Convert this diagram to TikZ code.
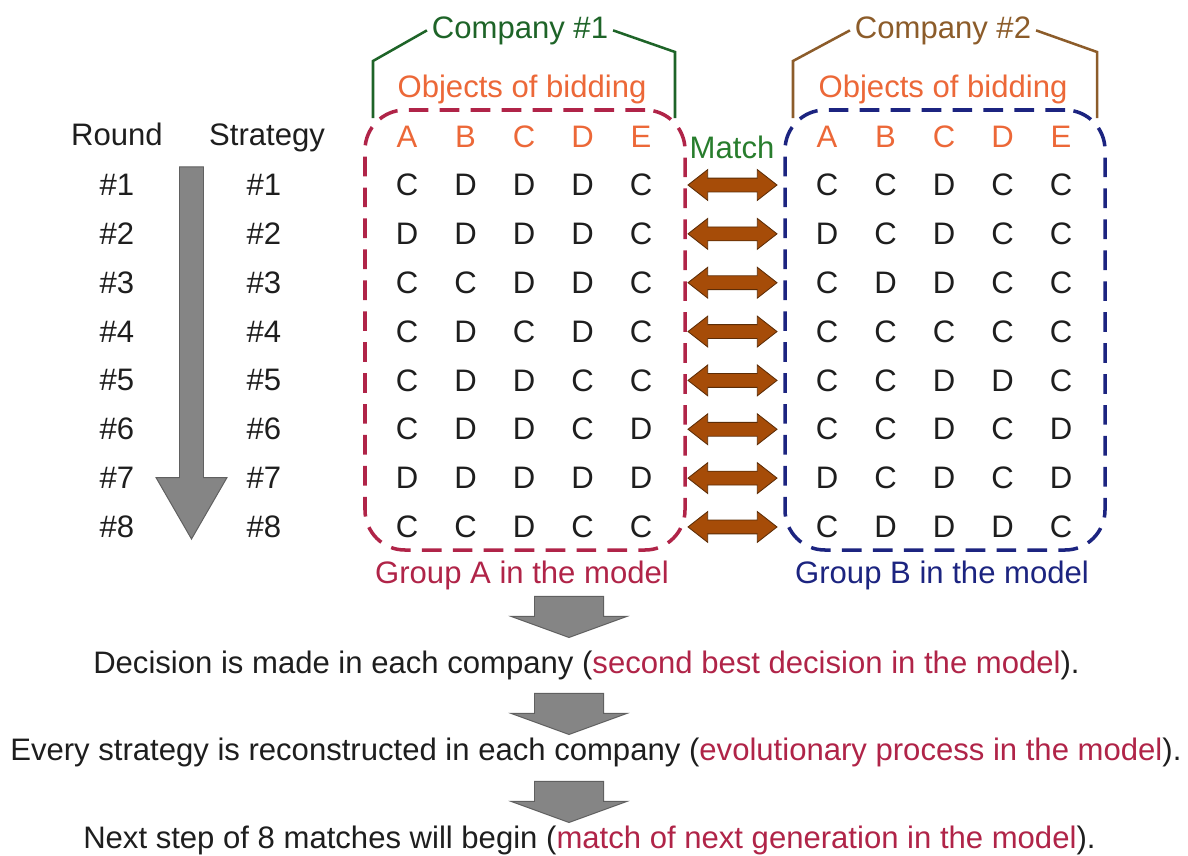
\documentclass[tikz,border=0pt]{standalone}
\usepackage{fontspec}
\setmainfont{Liberation Sans}
\usepackage{xcolor}
\usepackage{tikz}
\usetikzlibrary{shapes.arrows, positioning, fit}

\definecolor{grpA}{RGB}{176,36,72}
\definecolor{grpB}{RGB}{28,36,128}
\definecolor{objcol}{RGB}{236,104,56}
\definecolor{comp1col}{RGB}{30,100,40}
\definecolor{comp2col}{RGB}{140,92,42}
\definecolor{matchcol}{RGB}{40,125,45}
\definecolor{brownfill}{RGB}{166,76,8}
\definecolor{brownline}{RGB}{92,44,6}
\definecolor{grayfill}{RGB}{133,133,133}
\definecolor{grayline}{RGB}{96,96,96}
\definecolor{txt}{RGB}{30,30,30}

\tikzstyle{cell} = [text=txt, inner sep=0pt]
\tikzstyle{objhead} = [text=objcol, inner sep=0pt]
\tikzstyle{groupbox} = [rectangle, rounded corners=1cm, line width=2.5pt, dash pattern=on 14pt off 8pt, inner sep=0pt]
\tikzstyle{bracket} = [line width=1.8pt]
\tikzstyle{matcharrow} = [double arrow, double arrow tip angle=76, double arrow head extend=0.2125cm, inner xsep=0pt, inner ysep=0.1625cm, minimum height=2.225cm, fill=brownfill, draw=brownline, line width=0.6pt]
\tikzstyle{bigarrow} = [single arrow, rotate=-90, anchor=tip, single arrow tip angle=60, single arrow head extend=0.5875cm, inner xsep=0pt, inner ysep=0.2875cm, minimum height=9.3cm, fill=grayfill, draw=grayline, line width=0.7pt]
\tikzstyle{stepdown} = [single arrow, rotate=-90, anchor=tip, single arrow tip angle=140, single arrow head extend=0.5875cm, inner xsep=0pt, inner ysep=0.85cm, minimum height=1.025cm, fill=grayfill, draw=grayline, line width=0.7pt]

\begin{document}
\begin{tikzpicture}[x=0.025cm, y=-0.025cm, font=\fontsize{22.1pt}{26pt}\selectfont]
    \useasboundingbox (0,0) rectangle (1188,855);

    % rounds and strategies
    \node (round) [cell, anchor=base] at (117,145) {Round};
    \node (strat) [cell, anchor=base] at (267,145) {Strategy};
    \foreach \i in {1,...,8} {
        \node (rd\i) [cell] at (117, {185+48.85*(\i-1)}) {\#\i};
        \node (st\i) [cell] at (264, {185+48.85*(\i-1)}) {\#\i};
    }
    \node (rdarrow) [bigarrow] at (191.5,540) {};

    % companies
    \node (comp1) [text=comp1col, anchor=base] at (520,38) {Company \#1};
    \node (comp2) [text=comp2col, anchor=base] at (943,38) {Company \#2};
    \draw [bracket, draw=comp1col] (comp1.west) -- (373,61) -- (373,118);
    \draw [bracket, draw=comp1col] (comp1.east) -- (675,52) -- (675,118);
    \draw [bracket, draw=comp2col] (comp2.west) -- (793,61) -- (793,118);
    \draw [bracket, draw=comp2col] (comp2.east) -- (1097,52) -- (1097,118);
    \node (objA) [text=objcol, anchor=base] at (522,97) {Objects of bidding};
    \node (objB) [text=objcol, anchor=base] at (943,97) {Objects of bidding};

    \foreach \h [count=\j] in {A,B,C,D,E} {
        \node (hA\j) [objhead] at ({407+58.5*(\j-1)}, 137) {\h};
        \node (hB\j) [objhead] at ({827+58.5*(\j-1)}, 137) {\h};
    }

    % group A
    \foreach \row [count=\i] in {{C,D,D,D,C},{D,D,D,D,C},{C,C,D,D,C},{C,D,C,D,C},{C,D,D,C,C},{C,D,D,C,D},{D,D,D,D,D},{C,C,D,C,C}} {
        \foreach \v [count=\j] in \row
            \node (a\i\j) [cell] at ({407+58.5*(\j-1)}, {185+48.85*(\i-1)}) {\v};
    }
    % group B
    \foreach \row [count=\i] in {{C,C,D,C,C},{D,C,D,C,C},{C,D,D,C,C},{C,C,C,C,C},{C,C,D,D,C},{C,C,D,C,D},{D,C,D,C,D},{C,D,D,D,C}} {
        \foreach \v [count=\j] in \row
            \node (b\i\j) [cell] at ({827+58.5*(\j-1)}, {185+48.85*(\i-1)}) {\v};
    }

    \coordinate (nwA) at (365,110);
    \coordinate (seA) at (685,550);
    \coordinate (nwB) at (785,110);
    \coordinate (seB) at (1105,550);
    \node (boxA) [groupbox, draw=grpA, fit=(nwA)(seA)] {};
    \node (boxB) [groupbox, draw=grpB, fit=(nwB)(seB)] {};
    \node (lblA) [text=grpA, anchor=base] at (522,583) {Group A in the model};
    \node (lblB) [text=grpB, anchor=base] at (942,583) {Group B in the model};

    % matches
    \node (match) [text=matchcol] at (732,147) {Match};
    \foreach \i in {1,...,8}
        \node (m\i) [matcharrow] at (732.5, {185+48.85*(\i-1)}) {};

    % after the matches
    \node (dn1) [stepdown] at (569,638) {};
    \node (dec) [cell, anchor=base west] at (93,673) {Decision is made in each company (\textcolor{grpA}{second best decision in the model}).};
    \node (dn2) [stepdown] at (569,735) {};
    \node (evo) [cell, anchor=base west] at (10,760) {Every strategy is reconstructed in each company (\textcolor{grpA}{evolutionary process in the model}).};
    \node (dn3) [stepdown] at (569,823) {};
    \node (nxt) [cell, anchor=base west] at (83,848) {Next step of 8 matches will begin (\textcolor{grpA}{match of next generation in the model}).};
\end{tikzpicture}
\end{document}
